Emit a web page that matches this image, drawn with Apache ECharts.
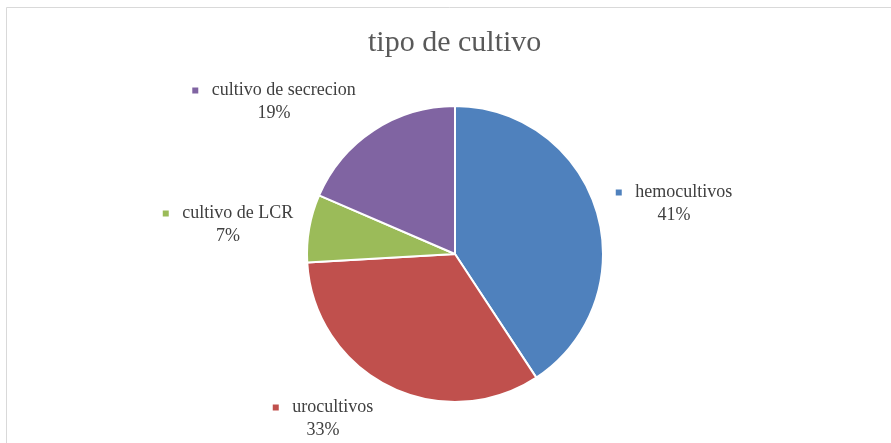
<!DOCTYPE html>
<html>
<head>
<meta charset="utf-8">
<script src="https://cdn.jsdelivr.net/npm/echarts@6/dist/echarts.min.js"></script>
<style>
html, body { margin: 0; padding: 0; background: #fff; }
#chart { width: 891px; height: 443px; }
</style>
</head>
<body>
<div id="chart"></div>
<script>
var titulo = 'tipo de cultivo';
var categorias = ['hemocultivos', 'urocultivos', 'cultivo de LCR', 'cultivo de secrecion'];
var valores = [22, 18, 4, 10];
var colores = ['#4F81BD', '#C0504D', '#9BBB59', '#8064A2'];
// where Excel put each label (center of the label block)
var posEtiquetas = [[674, 204], [323, 419], [228, 225], [274, 102]];

var datos = [];
for (var i = 0; i < categorias.length; i++) {
    datos.push({ name: categorias[i], value: valores[i], itemStyle: { color: colores[i] } });
}

var rich = {
    t: { fontFamily: 'Liberation Serif', fontSize: 18, color: '#404040', lineHeight: 23 }
};
for (var k = 0; k < colores.length; k++) {
    rich['m' + k] = { width: 6, height: 6, backgroundColor: colores[k], padding: 0 };
}

var chart = echarts.init(document.getElementById('chart'));
var option = {
    backgroundColor: '#fff',
    animation: false,
    title: {
        text: titulo,
        left: 363,
        top: 23,
        textStyle: { fontFamily: 'Liberation Serif', fontSize: 30, fontWeight: 'normal', color: '#595959' }
    },
    graphic: [{
        type: 'rect',
        shape: { x: 6.5, y: 7.5, width: 900, height: 450 },
        style: { fill: 'none', stroke: '#d9d9d9', lineWidth: 1 },
        silent: true
    }],
    series: [{
        type: 'pie',
        center: [455, 254],
        radius: 148,
        startAngle: 90,
        clockwise: true,
        itemStyle: { borderColor: '#fff', borderWidth: 2 },
        labelLine: { show: false },
        label: {
            show: true,
            position: 'outside',
            align: 'center',
            formatter: function (p) {
                return '{m' + p.dataIndex + '|}{t|   ' + p.name + '}\n{t|' + Math.round(p.percent) + '%}';
            },
            rich: rich
        },
        labelLayout: function (p) {
            var pos = posEtiquetas[p.dataIndex];
            return { x: pos[0], y: pos[1], align: 'center', verticalAlign: 'middle' };
        },
        data: datos
    }]
};
chart.setOption(option);
</script>
</body>
</html>
